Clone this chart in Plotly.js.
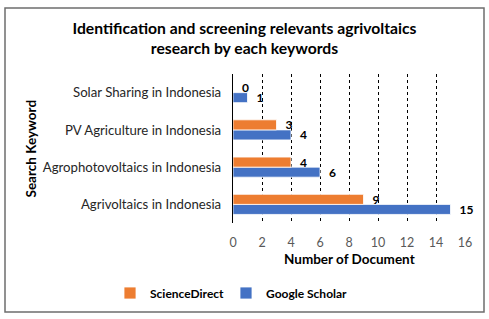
<!DOCTYPE html>
<html>
<head>
<meta charset="utf-8">
<script src="https://cdn.plot.ly/plotly-3.0.1.min.js"></script>
<style>html,body{margin:0;padding:0;background:#fff;}#chart{width:489px;height:319px;}</style>
</head>
<body>
<div id="chart"></div>
<script>
const categories = ['Agrivoltaics in Indonesia', 'Agrophotovoltaics in Indonesia', 'PV Agriculture in Indonesia', 'Solar Sharing in Indonesia'];
const scienceDirect = [9, 4, 3, 0];
const googleScholar = [15, 6, 4, 1];
const xTicks = [0, 2, 4, 6, 8, 10, 12, 14, 16];

const FONT = 'Lato, "Open Sans", sans-serif';
const W = 489, H = 319;
const M = {l: 233, r: 24, t: 74, b: 96, autoexpand: false};
const pw = W - M.l - M.r, ph = H - M.t - M.b;
function px(x) { return (x - M.l) / pw; }
function py(y) { return (H - M.b - y) / ph; }

const labelFont = {family: FONT, size: 12, color: '#000', weight: 'bold'};
const traces = [
  {
    type: 'bar', orientation: 'h', name: 'Google Scholar',
    y: categories, x: googleScholar,
    marker: {color: '#4472C4', line: {color: '#ffffff', width: 0.8}},
    texttemplate: '\u2002%{x}', textposition: 'outside', cliponaxis: false,
    constraintext: 'none', textfont: labelFont,
    legend: 'legend2'
  },
  {
    type: 'bar', orientation: 'h', name: 'ScienceDirect',
    y: categories, x: scienceDirect,
    marker: {color: '#ED7D31', line: {color: '#ffffff', width: 0.8}},
    texttemplate: '\u2002%{x}', textposition: 'outside', cliponaxis: false,
    constraintext: 'none', textfont: labelFont,
    legend: 'legend'
  }
];

const legendFont = {family: FONT, size: 12, color: '#000', weight: 'bold'};
const layout = {
  width: W, height: H,
  margin: M,
  paper_bgcolor: '#fff', plot_bgcolor: '#fff',
  font: {family: FONT, color: '#000'},
  barmode: 'group', bargap: 0.46, bargroupgap: 0,
  title: {
    text: '<b>Identification and screening relevants agrivoltaics<br>research by each keywords</b>',
    font: {family: FONT, size: 15.7, color: '#000'},
    x: 0.5, xref: 'container', xanchor: 'center',
    y: 1 - 34 / H, yref: 'container', yanchor: 'middle'
  },
  xaxis: {
    range: [0, 16], tickvals: xTicks, ticktext: xTicks.map(String),
    showgrid: true, gridcolor: '#000', griddash: 'dot', gridwidth: 1,
    zeroline: false, showline: false, ticks: '', ticklabelstandoff: 10,
    tickfont: {family: FONT, size: 12.5, color: '#595959'},
    automargin: false, fixedrange: true
  },
  yaxis: {
    type: 'category', categoryorder: 'array', categoryarray: categories,
    range: [-0.5, 3.5],
    showgrid: false, zeroline: false, showline: true, linecolor: '#000', linewidth: 1.2,
    ticks: '', ticklabelstandoff: 8,
    tickfont: {family: FONT, size: 13.2, color: '#262626'},
    automargin: false, fixedrange: true
  },
  annotations: [
    {
      text: '<b>Search Keyword</b>', xref: 'paper', yref: 'paper',
      x: px(30), y: 0.5, xanchor: 'center', yanchor: 'middle', textangle: -90,
      showarrow: false, font: {family: FONT, size: 13.5, color: '#000'}
    },
    {
      text: '<b>Number of Document</b>', xref: 'paper', yref: 'paper',
      x: 0.5, y: py(259), xanchor: 'center', yanchor: 'middle',
      showarrow: false, font: {family: FONT, size: 13.5, color: '#000'}
    }
  ],
  showlegend: true,
  legend: {
    orientation: 'h', xref: 'paper', x: px(110), xanchor: 'left',
    y: py(293), yanchor: 'middle', font: legendFont, itemwidth: 30,
    bgcolor: 'rgba(0,0,0,0)'
  },
  legend2: {
    orientation: 'h', xref: 'paper', x: px(226), xanchor: 'left',
    y: py(293), yanchor: 'middle', font: legendFont, itemwidth: 30,
    bgcolor: 'rgba(0,0,0,0)'
  },
  shapes: [{
    type: 'rect', xref: 'paper', yref: 'paper',
    x0: px(5), x1: px(484), y0: py(312), y1: py(8),
    line: {color: '#6e6e6e', width: 1.5}, fillcolor: 'rgba(0,0,0,0)', layer: 'below'
  }]
};

Plotly.newPlot('chart', traces, layout, {displayModeBar: false, staticPlot: true});
</script>
</body>
</html>
